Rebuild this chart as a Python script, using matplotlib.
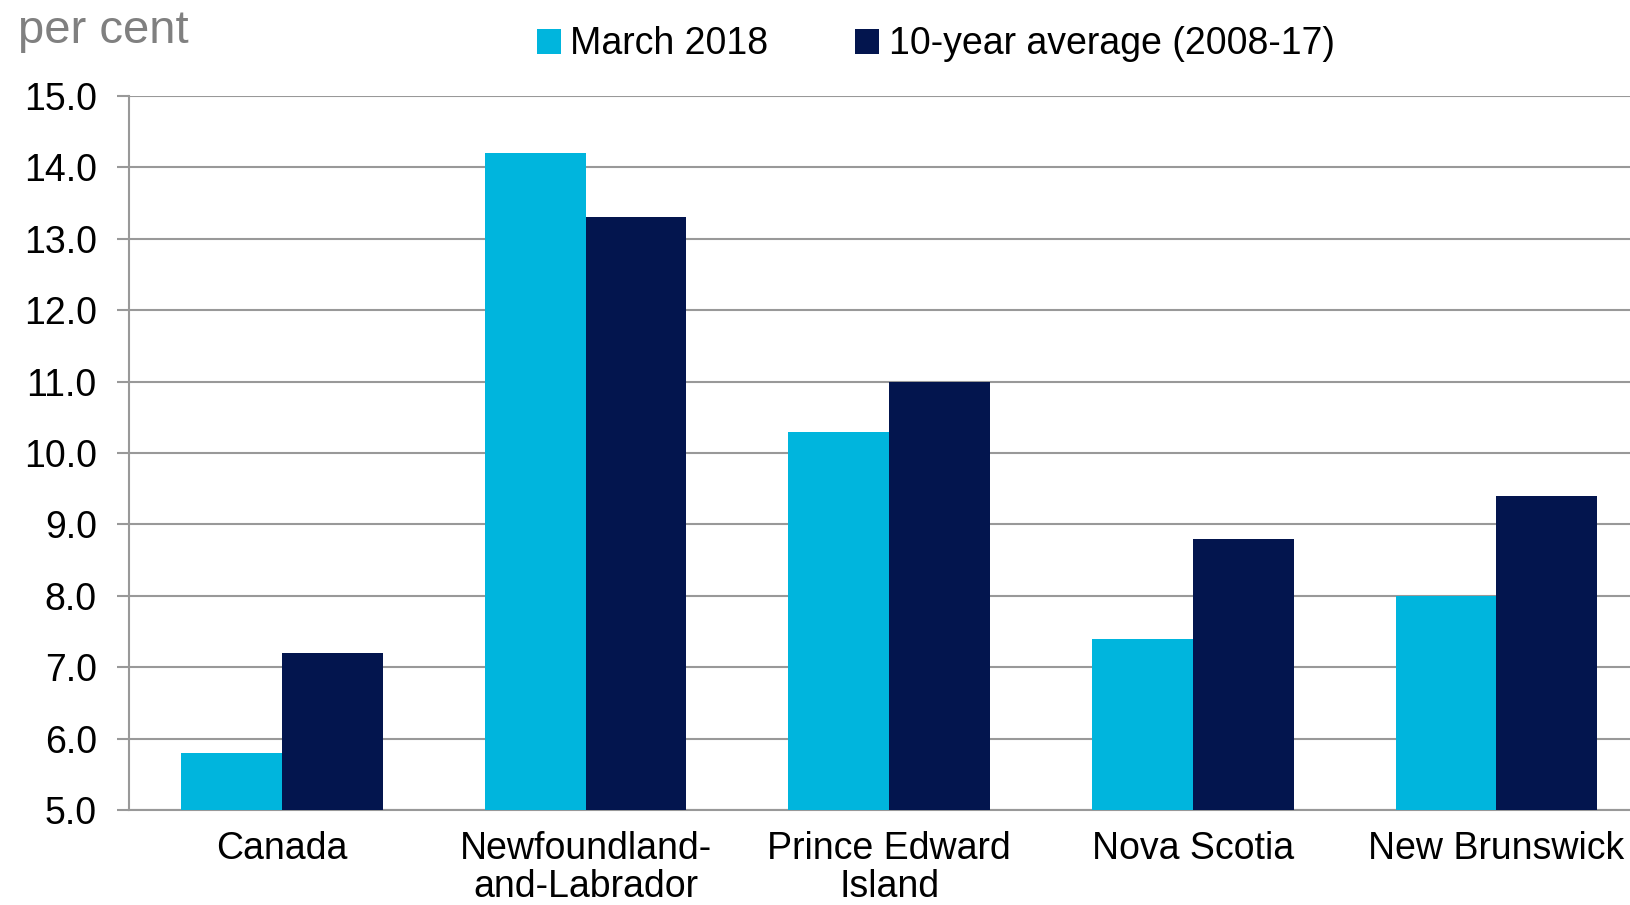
# unemployment rate, Canada and Atlantic provinces
from matplotlib import pyplot as plt
import numpy as np

regions = ['Canada', 'Newfoundland-\nand-Labrador', 'Prince Edward\nIsland', 'Nova Scotia', 'New Brunswick']
march_2018 = [5.8, 14.2, 10.3, 7.4, 8.0]
avg_10yr = [7.2, 13.3, 11.0, 8.8, 9.4]
series_labels = ['March 2018', '10-year average (2008-17)']
y_ticks = [5.0, 6.0, 7.0, 8.0, 9.0, 10.0, 11.0, 12.0, 13.0, 14.0, 15.0]

plt.rcParams['font.family'] = ['Liberation Sans', 'DejaVu Sans']

f = plt.figure(figsize=(16.3, 9.05), dpi=100)
ax1 = f.add_axes([0.079, 0.105, 0.921, 0.789])

bar_w = 0.332
x_locs = np.arange(len(regions))
ax1.bar(x_locs - bar_w / 2, march_2018, width=bar_w, color='#00B5DD', label=series_labels[0], zorder=3)
ax1.bar(x_locs + bar_w / 2, avg_10yr, width=bar_w, color='#03154E', label=series_labels[1], zorder=3)

ax1.set_ylim(5.0, 15.0)
ax1.set_xlim(-0.505, 4.44)
ax1.set_yticks(y_ticks)
ax1.set_yticklabels(['%.1f' % v for v in y_ticks], fontsize=27)
ax1.set_xticks(x_locs)
ax1.set_xticklabels(regions, fontsize=27, linespacing=1.08)
ax1.tick_params(axis='x', length=0, pad=15)
ax1.tick_params(axis='y', length=9, width=1.5, color='#999999', pad=14)

ax1.yaxis.grid(True, color='#999999', linewidth=1.5, zorder=0)
for s in ['top', 'right']:
    ax1.spines[s].set_visible(False)
for s in ['left', 'bottom']:
    ax1.spines[s].set_color('#999999')
    ax1.spines[s].set_linewidth(1.5)

f.text(0.011, 0.966, 'per cent', fontsize=34, color='#808080', va='center', ha='left')

f.legend(loc='center', bbox_to_anchor=(0.574, 0.951), ncol=2, frameon=False, fontsize=27,
         handlelength=0.65, handleheight=0.65, handletextpad=0.25, columnspacing=2.3)

f.savefig('out.png', dpi=100)
